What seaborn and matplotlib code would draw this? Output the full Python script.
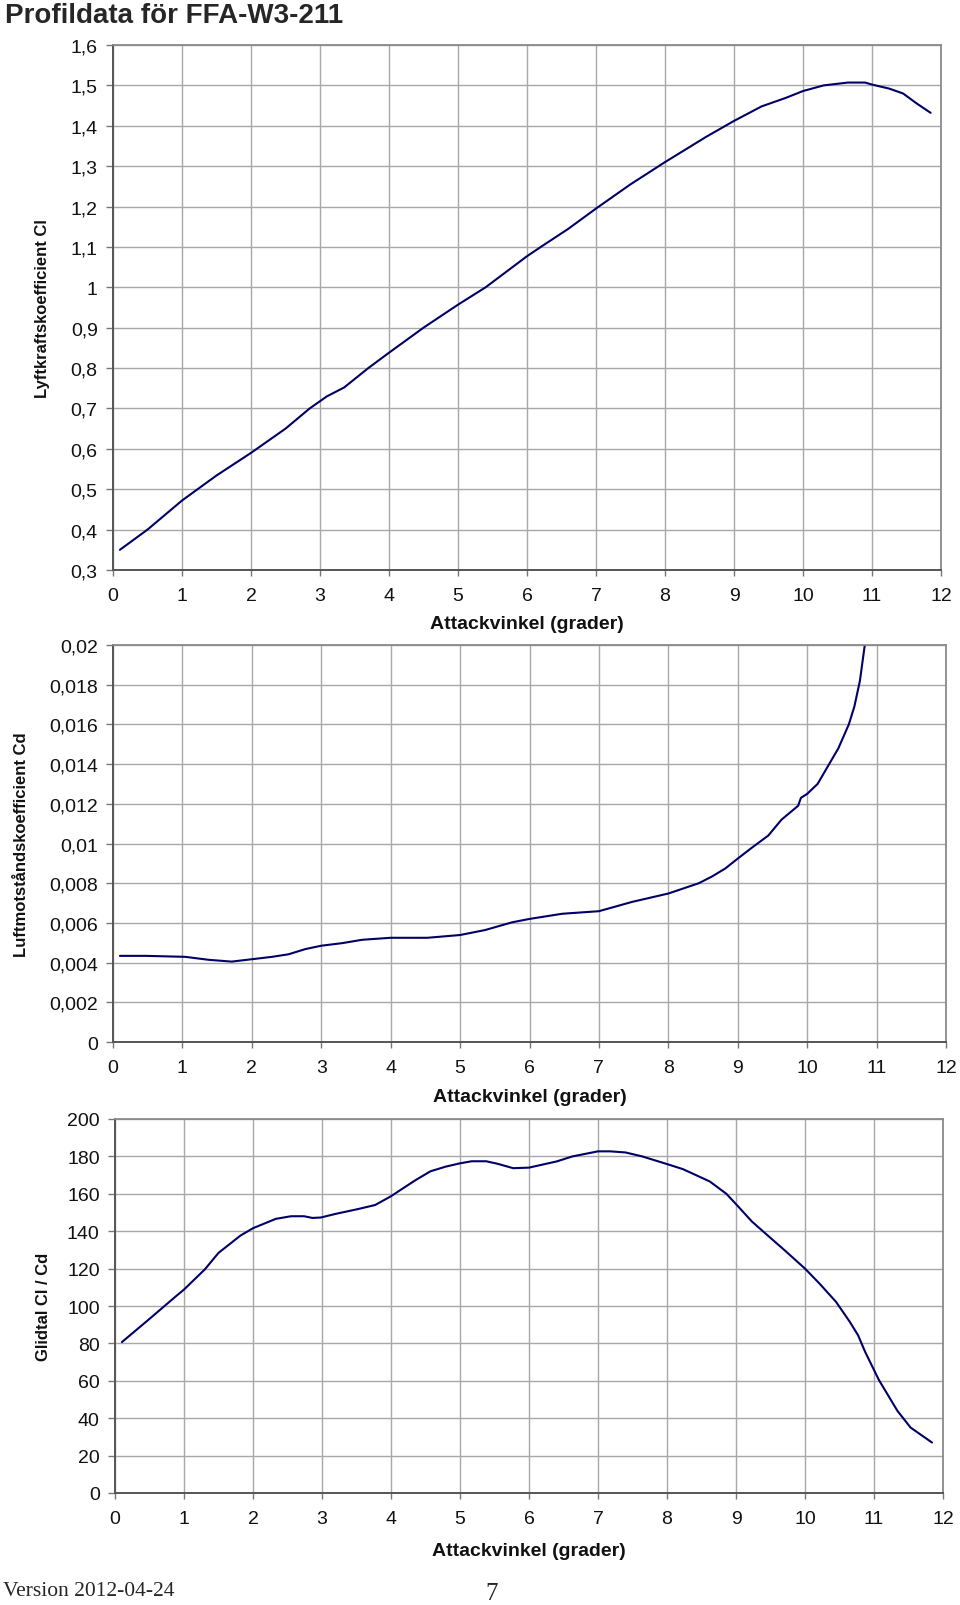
import numpy as np
import pandas as pd
import seaborn as sns
import matplotlib
matplotlib.use('Agg')
import matplotlib.pyplot as plt
from matplotlib.ticker import FuncFormatter, MultipleLocator

# Data
alpha_cl = [0.1, 0.5, 1.0, 1.5, 2.0, 2.5, 2.85, 3.1, 3.35, 3.7, 4.0, 4.5, 5.0, 5.4, 6.0, 6.2,
            6.6, 7.0, 7.5, 8.0, 8.6, 9.0, 9.4, 9.75, 10.0, 10.3, 10.65, 10.9, 11.0, 11.25,
            11.45, 11.65, 11.85]
cl = [0.350, 0.400, 0.472, 0.534, 0.590, 0.650, 0.700, 0.730, 0.752, 0.800, 0.838, 0.900,
      0.957, 1.000, 1.077, 1.100, 1.145, 1.195, 1.255, 1.310, 1.373, 1.412, 1.448, 1.469,
      1.486, 1.500, 1.507, 1.507, 1.502, 1.492, 1.480, 1.455, 1.432]

alpha_cd = [0.1, 0.47, 1.04, 1.38, 1.71, 2.0, 2.29, 2.53, 2.77, 3.0, 3.3, 3.59, 4.0, 4.53,
            5.0, 5.36, 5.75, 6.0, 6.47, 7.0, 7.48, 8.0, 8.44, 8.63, 8.82, 9.0, 9.2, 9.44,
            9.63, 9.87, 9.91, 10.0, 10.15, 10.3, 10.45, 10.6, 10.68, 10.76, 10.83, 10.95]
cd = [0.00434, 0.00434, 0.00429, 0.00414, 0.00405, 0.00417, 0.00429, 0.00442, 0.00468,
      0.00485, 0.00498, 0.00515, 0.00525, 0.00525, 0.00539, 0.00564, 0.00603, 0.00620,
      0.00646, 0.00659, 0.00706, 0.00748, 0.00800, 0.00834, 0.00874, 0.00924, 0.00978,
      0.0104, 0.0112, 0.0119, 0.0123, 0.0125, 0.0130, 0.0139, 0.0148, 0.0160, 0.0169,
      0.0182, 0.0200, 0.0235]

alpha_g = [0.1, 0.49, 0.87, 1.0, 1.3, 1.5, 1.82, 2.0, 2.33, 2.55, 2.74, 2.86, 2.98, 3.19,
           3.53, 3.77, 4.0, 4.16, 4.36, 4.57, 4.79, 5.0, 5.17, 5.38, 5.55, 5.77, 6.0, 6.4,
           6.63, 7.0, 7.18, 7.4, 7.64, 8.0, 8.23, 8.62, 8.86, 9.0, 9.23, 9.42, 9.72, 10.0,
           10.21, 10.45, 10.65, 10.77, 10.87, 11.07, 11.34, 11.53, 11.84]
glidtal = [80.7, 92.8, 104.8, 108.8, 119.5, 128.4, 137.7, 141.6, 146.6, 148.0, 148.0, 147.1,
           147.3, 149.2, 151.9, 154.0, 158.7, 162.6, 167.4, 172.0, 174.5, 176.3, 177.4, 177.4,
           176.0, 173.7, 174.0, 177.3, 180.0, 182.7, 182.7, 182.1, 180.0, 175.9, 173.2, 166.6,
           160.0, 154.5, 145.2, 139.0, 129.3, 120.0, 112.0, 102.2, 91.5, 84.3, 75.6, 60.5,
           43.9, 35.0, 27.0]

xlabel = 'Attackvinkel (grader)'
ylabels = ['Lyftkraftskoefficient Cl', 'Luftmotståndskoefficient Cd', 'Glidtal Cl / Cd']
title = 'Profildata för FFA-W3-211'

sns.set_theme(style='white')
plt.rcParams['font.family'] = ['Liberation Sans', 'DejaVu Sans']

W, H = 960, 1606
fig = plt.figure(figsize=(W / 100, H / 100), dpi=100)


def add_ax(left, right, top, bottom):
    return fig.add_axes([left / W, 1 - bottom / H, (right - left) / W, (bottom - top) / H])


def comma(v, pos):
    s = ('%.4f' % v).rstrip('0').rstrip('.')
    return s.replace('.', ',')


axes = [add_ax(113, 941, 46, 571), add_ax(113, 946, 646, 1043), add_ax(115, 943, 1120, 1494)]
data = [(alpha_cl, cl), (alpha_cd, cd), (alpha_g, glidtal)]
ylims = [(0.3, 1.6), (0, 0.02), (0, 200)]
ysteps = [0.1, 0.002, 20]
ylab_x = [43, 22, 43]
xlab_y = [625, 1098, 1552]

for i, ax in enumerate(axes):
    x, y = data[i]
    df = pd.DataFrame({'alpha': x, 'val': y})
    sns.lineplot(data=df, x='alpha', y='val', ax=ax, color='#000066', linewidth=1.5)
    ax.set_xlim(0, 12)
    ax.set_ylim(*ylims[i])
    ax.xaxis.set_major_locator(MultipleLocator(1))
    ax.yaxis.set_major_locator(MultipleLocator(ysteps[i]))
    ax.yaxis.set_major_formatter(FuncFormatter(comma))
    ax.grid(True, color='#a8a8a8', linewidth=1.0)
    ax.set_axisbelow(True)
    for side in ['top', 'right']:
        ax.spines[side].set_color('#8a8a8a')
        ax.spines[side].set_linewidth(1.3)
    for side in ['left', 'bottom']:
        ax.spines[side].set_color('#555555')
        ax.spines[side].set_linewidth(1.4)
    ax.tick_params(axis='y', direction='out', length=5, width=1, color='#777777',
                   labelsize=14, pad=6, left=True, labelcolor='#111111')
    ax.tick_params(axis='x', direction='out', length=4, width=1, color='#777777',
                   labelsize=14, pad=8, bottom=True, labelcolor='#111111')
    ax.set_xlabel(xlabel, fontsize=14, fontweight='bold', color='#111111')
    ax.set_ylabel(ylabels[i], fontsize=12, fontweight='bold', color='#111111')
    axpos = ax.get_position()
    ax.xaxis.set_label_coords((axpos.x0 + axpos.x1) / 2, 1 - xlab_y[i] / H, transform=fig.transFigure)
    ax.xaxis.label.set_verticalalignment('center')
    ax.yaxis.set_label_coords(ylab_x[i] / W, (axpos.y0 + axpos.y1) / 2, transform=fig.transFigure)
    ax.yaxis.label.set_verticalalignment('center')

fig.text(5 / W, 1 - 16 / H, title, fontsize=20, fontweight='bold', va='center', ha='left')
fig.text(3 / W, 1 - 1592 / H, 'Version 2012-04-24', fontsize=15.5, va='center', ha='left',
         family=['Liberation Serif', 'DejaVu Serif'])
fig.text(492 / W, 1 - 1594 / H, '7', fontsize=18, va='center', ha='center',
         family=['Liberation Serif', 'DejaVu Serif'])

fig.savefig('out.png', dpi=100)
